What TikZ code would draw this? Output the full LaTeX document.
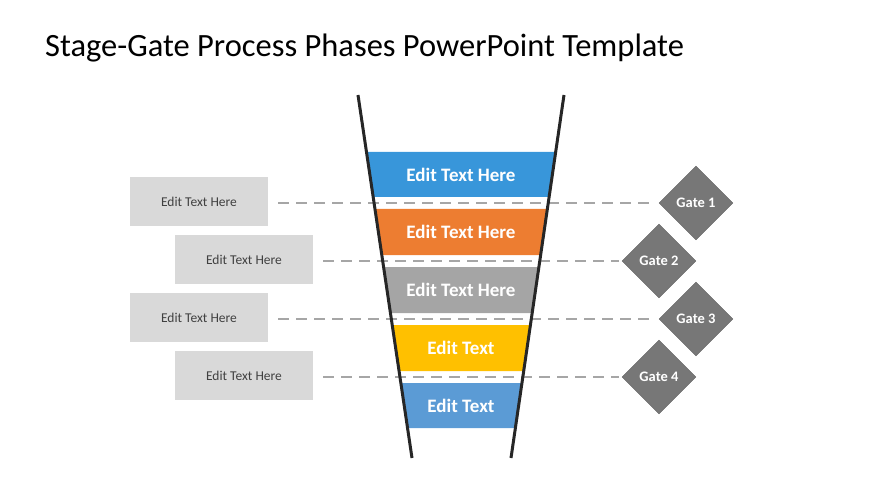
\documentclass[tikz,border=0pt]{standalone}
\usepackage{fontspec}
\setmainfont{Carlito}
\usetikzlibrary{shapes.geometric}
\definecolor{bandblue}{HTML}{3896DA}
\definecolor{bandorange}{HTML}{ED7D31}
\definecolor{bandgray}{HTML}{A5A5A5}
\definecolor{bandyellow}{HTML}{FFC000}
\definecolor{bandsky}{HTML}{5B9BD5}
\definecolor{boxgray}{HTML}{D9D9D9}
\definecolor{boxtext}{HTML}{404040}
\definecolor{gategray}{HTML}{777777}
\definecolor{gateedge}{HTML}{5F5F5F}
\definecolor{dashgray}{HTML}{A6A6A6}
\definecolor{funnelblack}{HTML}{262626}
\tikzset{
  lbox/.style={fill=boxgray, minimum width=138pt, minimum height=49pt, inner sep=0pt,
    text=boxtext, font=\fontsize{13.5}{16}\selectfont},
  gate/.style={diamond, fill=gategray, draw=gateedge, minimum width=74pt, minimum height=74pt,
    inner sep=0pt, text=white, font=\bfseries\fontsize{14.5}{17}\selectfont},
  gapline/.style={draw=dashgray, line width=2.5pt, dash pattern=on 11pt off 7pt},
  bandtext/.style={text=white, font=\bfseries\fontsize{19}{22}\selectfont},
  funnel/.style={draw=funnelblack, line width=3pt}
}
\begin{document}
\begin{tikzpicture}[x=1pt,y=-1pt]
  \useasboundingbox (0,0) rectangle (870,489);
  \node[anchor=base west, inner sep=0pt, font=\fontsize{32.5}{38}\selectfont] (title) at (45,57)
    {Stage-Gate Process Phases PowerPoint Template};

  % left boxes and gates
  \node[lbox] (lbox1) at (199,201.5) {Edit Text Here};
  \node[lbox] (lbox2) at (244,259.5) {Edit Text Here};
  \node[lbox] (lbox3) at (199,317.5) {Edit Text Here};
  \node[lbox] (lbox4) at (244,375.5) {Edit Text Here};
  \node[gate] (gate1) at (696,203) {Gate 1};
  \node[gate] (gate2) at (659,261) {Gate 2};
  \node[gate] (gate3) at (696,319) {Gate 3};
  \node[gate] (gate4) at (659,377) {Gate 4};
  \foreach \i in {1,...,4}
    \draw[gapline] ([xshift=10pt]lbox\i.east |- gate\i.west) -- ([xshift=-3pt]gate\i.west);

  % stages
  \foreach \t/\b/\c/\s/\n in {152/197/bandblue/Edit Text Here/1,
      209/255/bandorange/Edit Text Here/2, 267/313/bandgray/Edit Text Here/3,
      325/371/bandyellow/Edit Text/4, 383/428/bandsky/Edit Text/5}{
    \fill[\c] ({358+0.1488*(\t-95)},\t) -- ({564-0.146*(\t-95)},\t)
      -- ({564-0.146*(\b-95)},\b) -- ({358+0.1488*(\b-95)},\b) -- cycle;
    \node[bandtext] (band\n) at (461,{(\t+\b)/2}) {\s};
  }

  % funnel
  \coordinate (ftl) at (358,95);
  \coordinate (fbl) at (412,458);
  \coordinate (ftr) at (564,95);
  \coordinate (fbr) at (511,458);
  \draw[funnel] (ftl) -- (fbl);
  \draw[funnel] (ftr) -- (fbr);
\end{tikzpicture}
\end{document}
